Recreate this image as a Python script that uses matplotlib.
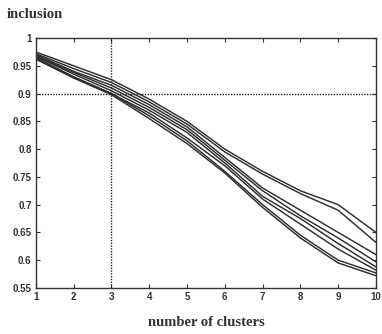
import matplotlib
matplotlib.use("Agg")
import matplotlib.pyplot as plt

# number of clusters
clusters = [1, 2, 3, 4, 5, 6, 7, 8, 9, 10]

# inclusion curves, one per run
run_1 = [0.975, 0.950, 0.925, 0.890, 0.850, 0.800, 0.760, 0.725, 0.700, 0.650]
run_2 = [0.972, 0.945, 0.920, 0.885, 0.845, 0.795, 0.755, 0.720, 0.690, 0.632]
run_3 = [0.970, 0.940, 0.915, 0.880, 0.840, 0.785, 0.730, 0.690, 0.650, 0.610]
run_4 = [0.968, 0.938, 0.910, 0.875, 0.835, 0.780, 0.725, 0.680, 0.640, 0.597]
run_5 = [0.967, 0.935, 0.905, 0.870, 0.830, 0.775, 0.715, 0.675, 0.630, 0.588]
run_6 = [0.965, 0.930, 0.900, 0.865, 0.820, 0.770, 0.710, 0.665, 0.620, 0.582]
run_7 = [0.963, 0.930, 0.900, 0.860, 0.815, 0.760, 0.700, 0.645, 0.600, 0.577]
run_8 = [0.962, 0.928, 0.898, 0.855, 0.810, 0.757, 0.695, 0.640, 0.595, 0.572]
runs = [run_1, run_2, run_3, run_4, run_5, run_6, run_7, run_8]

# reference markers
ref_clusters = 3
ref_inclusion = 0.9

y_ticks = [0.55, 0.6, 0.65, 0.7, 0.75, 0.8, 0.85, 0.9, 0.95, 1]
y_tick_labels = ["0.55", "0.6", "0.65", "0.7", "0.75", "0.8", "0.85", "0.9", "0.95", "1"]

fig = plt.figure(figsize=(3.82, 3.34), dpi=100)
ax = fig.add_axes([0.094, 0.138, 0.89, 0.748])

for r in runs:
    ax.plot(clusters, r, color="#2e2e2e", lw=1.05)

ax.axhline(ref_inclusion, color="#222222", lw=1.0, ls=(0, (1, 1)))
ax.axvline(ref_clusters, color="#222222", lw=1.0, ls=(0, (1, 1)))

ax.set_xlim(1, 10)
ax.set_ylim(0.55, 1)
ax.set_xticks(clusters)
ax.set_yticks(y_ticks)
ax.set_yticklabels(y_tick_labels)

for lab in ax.get_xticklabels() + ax.get_yticklabels():
    lab.set_fontfamily("Liberation Sans")
    lab.set_fontweight("bold")
    lab.set_fontsize(7)
    lab.set_color("#333333")

ax.tick_params(direction="in", length=3, width=0.8, top=True, right=True,
               pad=3, colors="#333333")
for s in ax.spines.values():
    s.set_linewidth(1.0)
    s.set_color("#333333")

ax.set_xlabel("number of clusters", family="Liberation Serif", weight="bold",
              fontsize=10.5, color="#333333", labelpad=10)
fig.text(0.018, 0.958, "inclusion", family="Liberation Serif", weight="bold",
         fontsize=10.5, color="#333333", va="center", ha="left")

fig.savefig("out.png", dpi=100)
